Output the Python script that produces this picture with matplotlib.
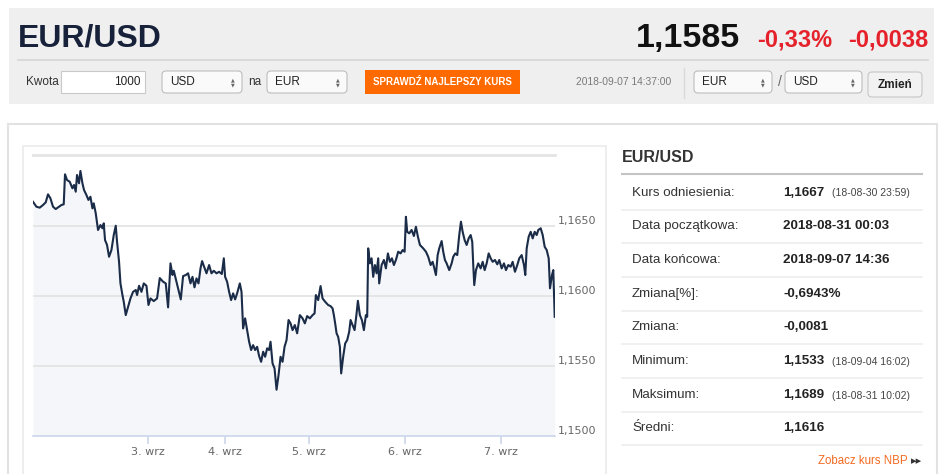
import matplotlib
matplotlib.use("Agg")
import matplotlib.pyplot as plt
from matplotlib.patches import Rectangle, FancyBboxPatch
from matplotlib import font_manager

# ---- data (ordinal position, EUR/USD rate) ----
pos = [0.0, 3.4, 6.7, 10.0, 12.7, 15.0, 17.4, 20.0, 22.7, 26.0,
       28.4, 30.7, 32.0, 34.0, 36.7, 39.4, 41.0, 42.7, 44.0, 46.0,
       47.4, 49.4, 51.0, 53.4, 55.4, 57.4, 59.4, 60.7, 62.7, 65.0,
       67.4, 69.4, 70.7, 72.0, 74.0, 76.0, 78.4, 80.7, 82.7, 84.0,
       86.0, 87.4, 89.4, 90.7, 92.7, 95.0, 97.4, 100.0, 102.7, 104.0,
       106.0, 108.4, 110.7, 113.4, 115.4, 117.4, 120.7, 124.0,
       126.7, 130.0, 132.7, 135.0, 137.4, 139.4, 140.7, 143.4, 146.0, 147.7,
       150.0, 152.7, 155.0, 157.4, 159.4, 161.4, 163.4, 165.4, 167.4, 169.0,
       171.0, 173.4, 176.0, 178.4, 180.7, 183.4, 186.0, 188.7, 190.7, 192.0,
       194.0, 196.0, 198.0, 200.0, 202.0, 204.0, 206.7, 208.4, 210.0, 212.0,
       214.0, 216.0, 218.0, 220.0, 222.0, 224.0, 226.0, 228.0, 230.0, 232.0,
       234.0, 236.0, 237.4, 239.4, 241.4, 243.4, 245.4, 247.4, 249.4, 251.4,
       253.4, 255.4, 257.4, 259.4, 261.7, 264.0, 266.7, 269.4, 271.7, 274.0,
       276.7, 279.4, 281.4, 282.7, 285.0, 287.4, 289.4, 292.0, 295.0, 297.4,
       299.4, 300.7, 302.0, 303.4, 305.0, 306.7, 308.0, 310.0, 312.0, 314.0,
       316.0, 317.4, 319.4, 321.4, 323.4, 324.7, 326.7, 328.7, 330.7, 332.7,
       334.0, 335.0, 336.7, 338.4, 340.0, 341.7, 343.4, 345.0, 346.0, 348.4,
       350.7, 352.7, 354.7, 356.7, 358.7, 360.7, 362.7, 365.0, 367.4, 369.4,
       371.4, 372.7, 374.0, 376.0, 378.4, 380.7, 382.7, 384.7, 386.7, 390.0,
       392.7, 395.0, 397.4, 399.4, 400.7, 402.7, 404.4, 406.0, 408.4, 410.0,
       411.7, 413.4, 416.0, 418.4, 420.0, 422.0, 424.0, 426.0, 427.7, 429.4,
       431.4, 433.4, 435.4, 437.4, 439.0, 440.0, 441.0, 442.7, 445.0, 447.4,
       449.4, 451.4, 453.4, 455.4, 457.4, 459.4, 461.7, 464.0, 466.0, 468.4,
       470.7, 472.7, 475.0, 477.4, 479.4, 481.7, 484.0, 486.0, 488.4, 490.7,
       492.0, 493.4, 495.4, 497.4, 499.4, 501.4, 503.4, 505.0, 507.4, 509.4,
       511.4, 513.4, 515.4, 516.7, 518.7, 520.0, 521.4]

rate = [1.16670, 1.16635, 1.16628, 1.16647, 1.16666, 1.16723, 1.16695, 1.16635, 1.16618, 1.16635,
        1.16647, 1.16652, 1.16866, 1.16825, 1.16813, 1.16766, 1.16790, 1.16742, 1.16861, 1.16802,
        1.16890, 1.16802, 1.16754, 1.16718, 1.16683, 1.16706, 1.16623, 1.16659, 1.16588, 1.16469,
        1.16504, 1.16481, 1.16516, 1.16397, 1.16362, 1.16278, 1.16326, 1.16433, 1.16499, 1.16385,
        1.16242, 1.16088, 1.16005, 1.15957, 1.15862, 1.15921, 1.15981, 1.16028, 1.16041, 1.16005,
        1.16071, 1.16028, 1.16088, 1.16071, 1.15934, 1.15981, 1.15962, 1.15981,
        1.16126, 1.16100, 1.16088, 1.15917, 1.16231, 1.16148, 1.16178, 1.16100, 1.16028, 1.15974,
        1.16140, 1.16148, 1.16160, 1.16088, 1.16135, 1.16060, 1.16124, 1.16088, 1.16195, 1.16247,
        1.16207, 1.16160, 1.16219, 1.16160, 1.16178, 1.16160, 1.16171, 1.16155, 1.16267, 1.16135,
        1.16100, 1.16028, 1.15969, 1.16017, 1.15974, 1.16017, 1.16088, 1.16028, 1.15767, 1.15839,
        1.15755, 1.15672, 1.15613, 1.15648, 1.15613, 1.15636, 1.15570, 1.15529, 1.15601, 1.15565,
        1.15625, 1.15613, 1.15672, 1.15518, 1.15482, 1.15330, 1.15434, 1.15565, 1.15529, 1.15636,
        1.15684, 1.15827, 1.15803, 1.15755, 1.15791, 1.15732, 1.15862, 1.15839, 1.15803, 1.15855,
        1.15839, 1.15862, 1.15874, 1.16005, 1.15969, 1.16069, 1.15981, 1.15957, 1.15934, 1.15926,
        1.15910, 1.15862, 1.15803, 1.15732, 1.15707, 1.15636, 1.15446, 1.15565, 1.15660, 1.15684,
        1.15743, 1.15827, 1.15791, 1.15755, 1.15874, 1.15964, 1.15862, 1.15827, 1.15755, 1.15862,
        1.15850, 1.16338, 1.16231, 1.16267, 1.16135, 1.16219, 1.16160, 1.16267, 1.16088, 1.16219,
        1.16255, 1.16195, 1.16302, 1.16242, 1.16267, 1.16219, 1.16255, 1.16314, 1.16302, 1.16326,
        1.16314, 1.16563, 1.16456, 1.16445, 1.16469, 1.16426, 1.16492, 1.16421, 1.16362, 1.16338,
        1.16314, 1.16278, 1.16219, 1.16242, 1.16207, 1.16148, 1.16290, 1.16338, 1.16390, 1.16314,
        1.16255, 1.16231, 1.16183, 1.16231, 1.16278, 1.16302, 1.16290, 1.16433, 1.16528, 1.16456,
        1.16397, 1.16362, 1.16409, 1.16433, 1.16385, 1.16219, 1.16076, 1.16183, 1.16231, 1.16195,
        1.16242, 1.16183, 1.16231, 1.16302, 1.16267, 1.16242, 1.16255, 1.16224, 1.16255, 1.16195,
        1.16231, 1.16183, 1.16219, 1.16207, 1.16242, 1.16171, 1.16219, 1.16267, 1.16290, 1.16219,
        1.16148, 1.16338, 1.16421, 1.16456, 1.16409, 1.16456, 1.16433, 1.16469, 1.16481, 1.16433,
        1.16349, 1.16326, 1.16267, 1.16053, 1.16148, 1.16183, 1.15850]

day_ticks = [114.7, 191.4, 275.4, 371.4, 467.4]
day_labels = ["3. wrz", "4. wrz", "5. wrz", "6. wrz", "7. wrz"]
y_ticks = [1.150, 1.155, 1.160, 1.165]
y_labels = ["1,1500", "1,1550", "1,1600", "1,1650"]

stat_labels = ["Kurs odniesienia:", "Data początkowa:", "Data końcowa:", "Zmiana[%]:",
               "Zmiana:", "Minimum:", "Maksimum:", "Średni:"]
stat_values = ["1,1667", "2018-08-31 00:03", "2018-09-07 14:36", "-0,6943%",
               "-0,0081", "1,1533", "1,1689", "1,1616"]
stat_notes = ["(18-08-30 23:59)", "", "", "", "", "(18-09-04 16:02)", "(18-08-31 10:02)", ""]

# ---- fonts ----
names = {f.name for f in font_manager.fontManager.ttflist}
SANS = "Liberation Sans" if "Liberation Sans" in names else "DejaVu Sans"
plt.rcParams["font.family"] = [SANS, "DejaVu Sans"]

W, H = 945, 474
fig = plt.figure(figsize=(W / 100, H / 100), dpi=100)
fig.patch.set_facecolor("white")

# page overlay in pixel coordinates (y downwards)
pg = fig.add_axes([0, 0, 1, 1], zorder=0)
pg.set_xlim(0, W)
pg.set_ylim(H, 0)
pg.axis("off")


def rect(x0, y0, x1, y1, fc, ec="none", lw=1, rounded=False):
    if rounded:
        p = FancyBboxPatch((x0, y0), x1 - x0, y1 - y0, boxstyle="round,pad=0,rounding_size=4",
                           fc=fc, ec=ec, lw=lw)
    else:
        p = Rectangle((x0, y0), x1 - x0, y1 - y0, fc=fc, ec=ec, lw=lw)
    pg.add_patch(p)


def select_box(x0, x1, label):
    rect(x0, 71, x1, 93, "#fafafa", "#bdbdbd", 0.8, rounded=True)
    pg.text(x0 + 8, 82, label, fontsize=8.5, color="#222222", va="center", ha="left")
    pg.text(x1 - 9, 79.5, "▲", fontsize=3.5, color="#666666", va="center", ha="center",
            family="DejaVu Sans")
    pg.text(x1 - 9, 85, "▼", fontsize=3.5, color="#666666", va="center", ha="center",
            family="DejaVu Sans")


# header panel
rect(9, 8, 934, 104, "#efefef")
pg.text(18, 38, "EUR/USD", fontsize=23, fontweight="bold", color="#17213a", va="center")
pg.text(740, 38, "1,1585", fontsize=24.5, fontweight="bold", color="#111111", va="center", ha="right")
pg.text(757, 40, "-0,33%", fontsize=17, fontweight="bold", color="#e5222b", va="center")
pg.text(928, 40, "-0,0038", fontsize=17, fontweight="bold", color="#e5222b", va="center", ha="right")
pg.plot([18, 928], [60, 60], color="#d6d6d6", lw=1.2)

pg.text(26, 82, "Kwota", fontsize=8.5, color="#333333", va="center")
rect(61, 71, 145, 93, "white", "#c9c9c9", 0.8)
pg.text(141, 82, "1000", fontsize=8.5, color="#222222", va="center", ha="right")
select_box(162, 242, "USD")
pg.text(248, 82, "na", fontsize=8.5, color="#333333", va="center")
select_box(267, 347, "EUR")
rect(365, 70, 520, 94, "#ff6a00")
pg.text(442.5, 82, "SPRAWDŹ NAJLEPSZY KURS", fontsize=7, fontweight="bold", color="white",
        va="center", ha="center")
pg.text(576, 82, "2018-09-07 14:37:00", fontsize=7.4, color="#7a7a7a", va="center")
pg.plot([684, 684], [68, 98], color="#dadada", lw=1)
select_box(694, 772, "EUR")
pg.text(778, 82, "/", fontsize=10, color="#666666", va="center")
select_box(785, 862, "USD")
rect(868, 72, 922, 97, "#f2f2f2", "#c6c6c6", 0.8, rounded=True)
pg.text(895, 84.5, "Zmień", fontsize=8.5, fontweight="bold", color="#222222", va="center", ha="center")

# main panel and chart container
rect(8, 124, 937, 480, "white", "#e2e2e2", 1.5)
rect(23, 146, 606, 480, "white", "#ebebeb", 1.2)

# right-hand stats table
pg.text(622, 158, "EUR/USD", fontsize=11.5, fontweight="bold", color="#333333", va="center")
pg.plot([622, 922], [174, 174], color="#c4c4c4", lw=1.5)
row_y0, row_h = 192.5, 33.7
for i, (lab, val, note) in enumerate(zip(stat_labels, stat_values, stat_notes)):
    yc = row_y0 + i * row_h
    pg.text(632, yc, lab, fontsize=9.6, color="#333333", va="center")
    pg.text(783, yc, val, fontsize=9.6, fontweight="bold", color="#222222", va="center")
    if note:
        pg.text(832, yc + 1, note, fontsize=7.5, color="#444444", va="center")
    pg.plot([622, 922], [yc + 17, yc + 17], color="#eeeeee", lw=1.2)
pg.text(908, 461, "Zobacz kurs NBP", fontsize=8.3, color="#f26a21", va="center", ha="right")
pg.text(911, 461.5, "▸▸", fontsize=8, color="#333333", va="center", ha="left", family="DejaVu Sans")

# ---- the rate chart ----
ax = fig.add_axes([33 / W, 1 - 436 / H, 522 / W, 280.5 / H], zorder=1)
ax.set_facecolor("none")
ax.fill_between(pos, rate, 1.15, color="#f4f6f9", lw=0, zorder=1)
for g in [1.155, 1.16, 1.165]:
    ax.axhline(g, color="#e2e2e2", lw=1.2, zorder=2)
ax.axhline(1.17, color="#e4e4e4", lw=2, zorder=2, clip_on=False)
ax.plot(pos, rate, color="#1b2c48", lw=1.5, zorder=3)

ax.set_xlim(0, 521.7)
ax.set_ylim(1.15, 1.17)
for s in ["top", "left", "right"]:
    ax.spines[s].set_visible(False)
ax.spines["bottom"].set_color("#ccd6eb")
ax.spines["bottom"].set_linewidth(1.2)

ax.set_xticks(day_ticks)
ax.set_xticklabels(day_labels, family="DejaVu Sans", fontsize=8, color="#666666")
ax.tick_params(axis="x", length=6, width=1.2, color="#ccd6eb", pad=2)

ax.yaxis.tick_right()
ax.set_yticks(y_ticks)
ax.set_yticklabels(y_labels, family="DejaVu Sans", fontsize=8, color="#666666")
ax.tick_params(axis="y", length=0, pad=2)
for lbl in ax.get_yticklabels():
    lbl.set_verticalalignment("bottom")

fig.savefig("out.png", dpi=100)
